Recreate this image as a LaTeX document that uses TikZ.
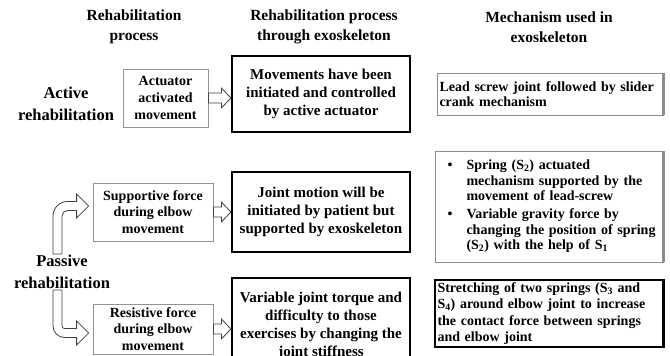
\documentclass[tikz,border=0pt]{standalone}
\usepackage{fontspec}
\setmainfont{Liberation Serif}
\usetikzlibrary{calc}
\tikzset{
  hdr/.style={align=center, inner sep=0pt, font=\bfseries\fontsize{15.5}{20}\selectfont},
  rowlab/.style={align=center, inner sep=0pt, font=\bfseries\fontsize{16.5}{22}\selectfont},
  lbox/.style={draw=gray!85, line width=0.8pt, fill=white, align=center, inner sep=0pt,
    font=\bfseries\fontsize{14}{16.8}\selectfont},
  mbox/.style={draw=black, line width=1.2pt, fill=white, align=center, inner sep=0pt,
    minimum width=178pt, font=\bfseries\fontsize{15}{18}\selectfont},
  rbox/.style={draw=gray!90, line width=0.8pt, fill=white, align=left, inner xsep=2.5pt, inner ysep=0pt,
    font=\bfseries\fontsize{14}{15.5}\selectfont},
  redge/.style={line width=2.4pt, draw=gray!90},
  harrow/.style={draw=black!75, line width=0.8pt, fill=white, line join=miter},
}
\newcommand\blockarrow[2]{%
  \draw[harrow] let \p1=(#1.east), \p2=(#2.west) in
    (\x1,\y1+5pt) -- (\x2-10pt,\y1+5pt) -- (\x2-10pt,\y1+10pt) -- (\x2-0.5pt,\y1)
    -- (\x2-10pt,\y1-10pt) -- (\x2-10pt,\y1-5pt) -- (\x1,\y1-5pt) -- cycle;}
\begin{document}
\begin{tikzpicture}[x=1pt,y=1pt]
\clip (0,0) rectangle (670,356);
\fill[white] (0,0) rectangle (670,356);
% headers
\node[hdr] (h1) at (134,329) {Rehabilitation\\process};
\node[hdr] (h2) at (324,329) {Rehabilitation process\\through exoskeleton};
\node[hdr] (h3) at (549,329) {Mechanism used in\\exoskeleton};
% row labels
\node[rowlab] (act) at (66,252) {Active\\rehabilitation};
\node[rowlab] (pas) at (62,84) {Passive\\rehabilitation};
% left boxes
\node[lbox, minimum width=85pt, minimum height=58pt] (aam) at (165.5,258) {Actuator\\activated\\movement};
\node[lbox, minimum width=120pt, minimum height=58pt] (sup) at (153,144) {Supportive force\\during elbow\\movement};
\node[lbox, minimum width=120pt, minimum height=50pt] (res) at (153,27) {Resistive force\\during elbow\\movement};
% middle boxes
\node[mbox, minimum height=76pt] (m1) at (321,262) {Movements have been\\initiated and controlled\\by active actuator};
\node[mbox, minimum height=80pt] (m2) at (321,144) {Joint motion will be\\initiated by patient but\\supported by exoskeleton};
\node[mbox, minimum height=95pt] (m3) at (321,30.5) {Variable joint torque and\\difficulty to those\\exercises by changing the\\joint stiffness};
% right boxes
\node[rbox, text width=221pt, minimum height=42pt] (r1) at (550,262) {Lead screw joint followed by slider\\crank mechanism};
\draw[redge] (r1.north east) -- (r1.south east);
\node[rbox, text width=223pt, minimum height=111pt] (r2) at (549,149.5) {%
\renewcommand\arraystretch{1}%
\begin{tabular}{@{\hspace{10pt}}p{19pt}@{}l@{}}
\textbullet & Spring (S\textsubscript{2}) actuated\\
 & mechanism supported by the\\
 & movement of lead-screw\\[2.5pt]
\textbullet & Variable gravity force by\\
 & changing the position of spring\\
 & (S\textsubscript{2}) with the help of S\textsubscript{1}
\end{tabular}};
\draw[redge] (r2.north east) -- (r2.south east);
\node[rbox, draw=black, line width=1.2pt, text width=223pt, minimum height=67pt,
  font=\bfseries\fontsize{14}{16.5}\selectfont] (r3) at (549,42.5)
  {Stretching of two springs (S\textsubscript{3} and\\S\textsubscript{4}) around elbow joint to increase\\the contact force between springs\\and elbow joint};
\draw[redge, draw=black] (r3.north east) -- (r3.south east);
% straight hollow arrows
\blockarrow{aam}{m1}
\blockarrow{sup}{m2}
\blockarrow{res}{m3}
% curved hollow arrows
\draw[harrow] let \p1=(pas.north), \p2=(sup.west) in
  (\x1-9pt,\y1+1pt) -- (\x1-9pt,\y2-4pt) arc[start angle=180,end angle=90,radius=14.5pt]
  -- (\x2-16pt,\y2+10.5pt) -- (\x2-16pt,\y2+18pt) -- (\x2-4pt,\y2+6pt) -- (\x2-16pt,\y2-6pt)
  -- (\x2-16pt,\y2+1.5pt) -- (\x1+5.5pt,\y2+1.5pt) arc[start angle=90,end angle=180,radius=5.5pt]
  -- (\x1,\y1+1pt) -- cycle;
\draw[harrow] let \p1=(pas.south), \p2=(res.west) in
  (\x1-9pt,\y1-1pt) -- (\x1-9pt,\y2+3pt) arc[start angle=180,end angle=270,radius=11.5pt]
  -- (\x2-16pt,\y2-8.5pt) -- (\x2-16pt,\y2-16pt) -- (\x2-4pt,\y2-4pt) -- (\x2-16pt,\y2+8pt)
  -- (\x2-16pt,\y2+0.5pt) -- (\x1+2.5pt,\y2+0.5pt) arc[start angle=270,end angle=180,radius=2.5pt]
  -- (\x1,\y1-1pt) -- cycle;
\end{tikzpicture}
\end{document}
